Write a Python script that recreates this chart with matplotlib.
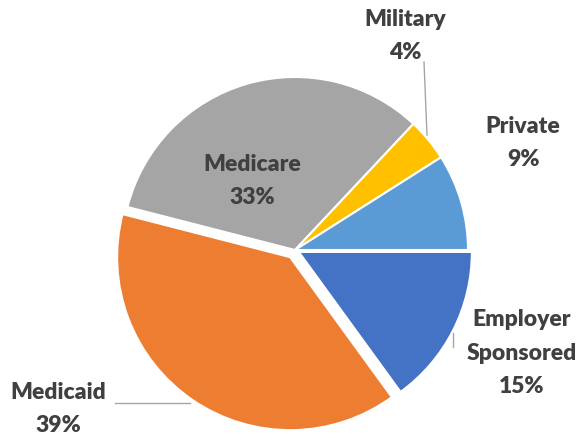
import matplotlib.pyplot as plt

categories = ["Employer\nSponsored", "Medicaid", "Medicare", "Military", "Private"]
shares = [15, 39, 33, 4, 9]
colors = ["#4472C4", "#ED7D31", "#A5A5A5", "#FFC000", "#5B9BD5"]

# label placement in pixels (centre of text block), from the reference
label_px = [(522, 353), (58, 409), (252, 181), (405, 36), (523, 143)]
explode = [0.025, 0.05, 0, 0, 0]

W, H = 582, 440
cx, cy, r = 295, 250, 173


def px2d(x, y):
    return (x - cx) / r, (cy - y) / r


fig = plt.figure(figsize=(W / 100, H / 100), dpi=100)
ax = fig.add_axes([0, 0, 1, 1])
ax.pie(shares, colors=colors, startangle=0, counterclock=False, explode=explode,
       radius=1.0, wedgeprops=dict(edgecolor="white", linewidth=1.5))
ax.set_xlim((0 - cx) / r, (W - cx) / r)
ax.set_ylim((cy - H) / r, cy / r)
ax.set_aspect("equal")
ax.axis("off")

for name, val, (lx, ly) in zip(categories, shares, label_px):
    x, y = px2d(lx, ly)
    ax.text(x, y, f"{name}\n{val}%", ha="center", va="center", fontsize=16.5,
            fontweight="heavy", family="Lato", color="#404040", linespacing=1.72)

# leader lines
for (x0, y0), (x1, y1) in [((424, 62), (427, 135)), ((115, 403), (190, 403)),
                           ((453, 333), (453, 347))]:
    a = px2d(x0, y0)
    b = px2d(x1, y1)
    ax.plot([a[0], b[0]], [a[1], b[1]], color="#A6A6A6", lw=1)

fig.savefig("out.png", dpi=100)
